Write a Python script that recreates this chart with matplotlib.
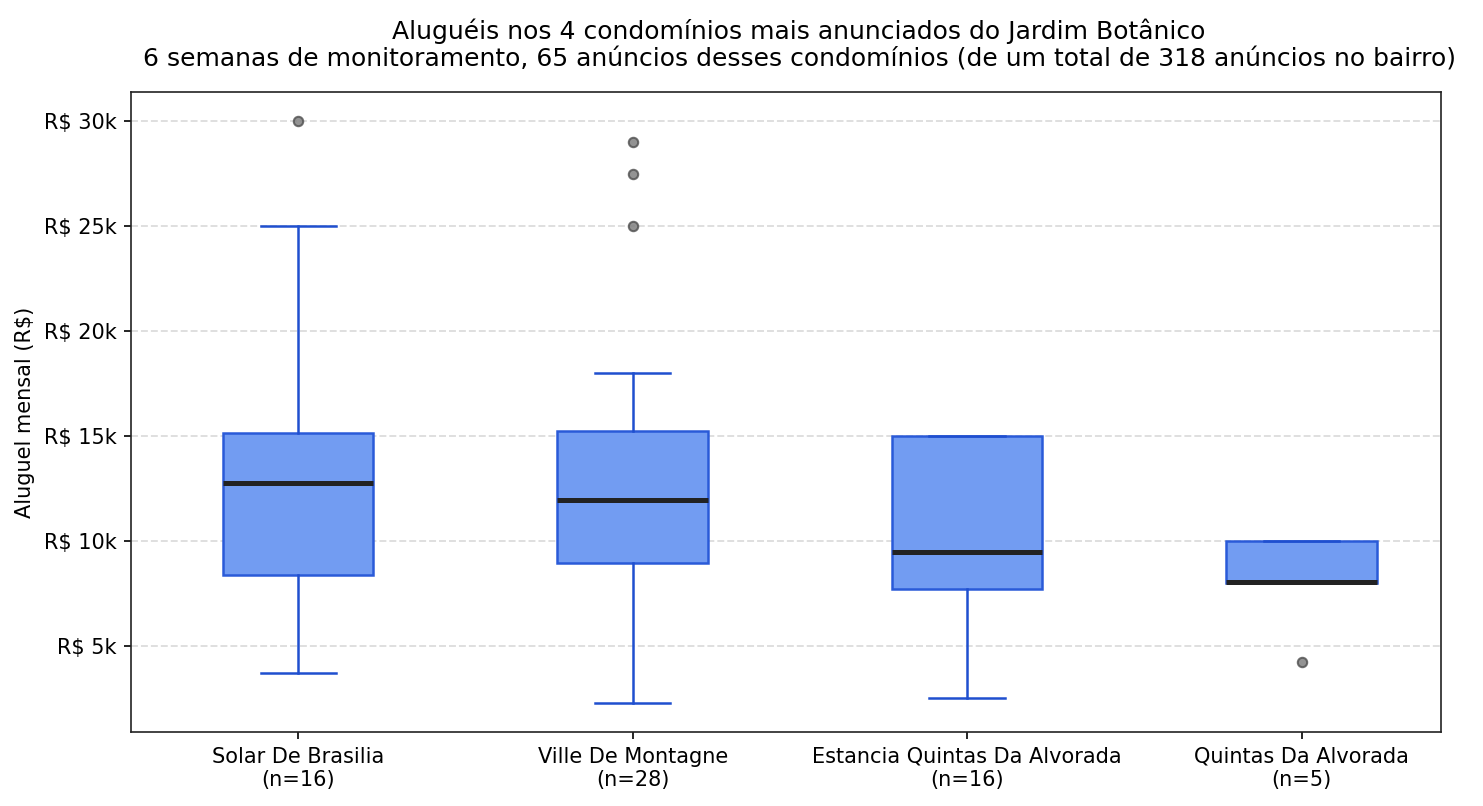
import matplotlib
matplotlib.use("Agg")
import matplotlib.pyplot as plt
from matplotlib.ticker import FuncFormatter

# boxplot stats (R$)
names = ['Solar De Brasilia', 'Ville De Montagne', 'Estancia Quintas Da Alvorada', 'Quintas Da Alvorada']
counts = [16, 28, 16, 5]
whis_lo = [3670, 2240, 2480, 8000]
q1 = [8380, 8950, 7710, 8000]
med = [12760, 11950, 9480, 8050]
q3 = [15140, 15240, 15000, 10000]
whis_hi = [25000, 18000, 15000, 10000]
fliers = [[30000], [29000, 27500, 25000], [], [4200]]

stats = []
for i in range(len(names)):
    stats.append(dict(whislo=whis_lo[i], q1=q1[i], med=med[i], q3=q3[i],
                      whishi=whis_hi[i], fliers=fliers[i]))

fig, ax = plt.subplots(figsize=(1483 / 150, 806 / 150), dpi=150)

blue = '#1f4fcf'
ax.bxp(stats, positions=range(len(names)), widths=0.45, patch_artist=True,
       boxprops=dict(facecolor='#729cf2', edgecolor='#2a5ad8', linewidth=1.2),
       whiskerprops=dict(color=blue, linewidth=1.2),
       capprops=dict(color=blue, linewidth=1.2),
       medianprops=dict(color='#222222', linewidth=2.4),
       flierprops=dict(marker='o', markerfacecolor='#808080', markeredgecolor='#555555',
                       markersize=4.5, alpha=0.85),
       zorder=3)

ax.set_xticks(range(len(names)))
ax.set_xticklabels([f'{n}\n(n={c})' for n, c in zip(names, counts)], fontsize=10)
ax.set_xlim(-0.5, 3.417)
ax.set_ylim(880, 31390)
ax.set_yticks([5000, 10000, 15000, 20000, 25000, 30000])
ax.yaxis.set_major_formatter(FuncFormatter(lambda v, p: 'R\\$ %dk' % (v / 1000)))
ax.tick_params(labelsize=10)
ax.grid(axis='y', linestyle='--', color='#dddddd', linewidth=0.9, zorder=0)
ax.set_axisbelow(True)
ax.set_ylabel('Aluguel mensal (R\\$)', fontsize=10)
ax.set_title('Aluguéis nos 4 condomínios mais anunciados do Jardim Botânico\n'
             '6 semanas de monitoramento, 65 anúncios desses condomínios (de um total de 318 anúncios no bairro)',
             fontsize=12, pad=12, x=0.51)
for s in ax.spines.values():
    s.set_color('#222222')

plt.subplots_adjust(left=0.0883, right=0.9717, top=0.8859, bottom=0.0918)
plt.savefig('out.png', dpi=150)
